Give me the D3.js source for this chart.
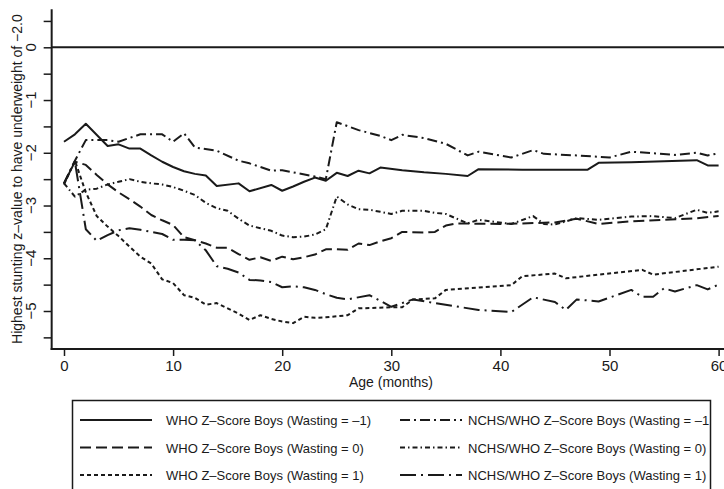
<!DOCTYPE html>
<html>
<head>
<meta charset="utf-8">
<script src="https://cdn.jsdelivr.net/npm/d3@7"></script>
<style>
  body { margin: 0; background: #fff; }
  svg text { font-family: "Liberation Sans", Arial, sans-serif; fill: #1a1a1a; }
</style>
</head>
<body>
<div id="chart"></div>
<script>
// Data (age in months, z-value)
const whoM1Age = [0, 1, 2, 4, 5, 6, 7, 8, 9, 10, 11, 12, 13, 14, 16, 17, 19, 20, 21, 22, 23, 24, 25, 26, 27, 28, 29, 31, 33, 35, 37, 38, 42, 48, 49, 52, 55, 58, 59, 60];
const whoM1Val = [-1.79, -1.65, -1.45, -1.87, -1.84, -1.92, -1.92, -2.05, -2.17, -2.27, -2.35, -2.40, -2.43, -2.63, -2.58, -2.73, -2.61, -2.72, -2.64, -2.55, -2.47, -2.53, -2.38, -2.44, -2.34, -2.39, -2.28, -2.33, -2.37, -2.40, -2.44, -2.31, -2.32, -2.32, -2.19, -2.18, -2.16, -2.14, -2.24, -2.24];

const who0Age = [0, 1, 2, 3, 4, 5, 6, 7, 8, 9, 10, 11, 12, 13, 14, 15, 16, 17, 18, 19, 20, 21, 22, 23, 24, 25, 26, 27, 28, 29, 30, 31, 33, 34, 35, 36, 40, 42, 45, 47, 49, 52, 55, 58, 60];
const who0Val = [-2.58, -2.17, -2.23, -2.42, -2.60, -2.75, -2.88, -3.02, -3.18, -3.28, -3.37, -3.60, -3.66, -3.72, -3.80, -3.80, -3.92, -4.03, -3.98, -4.05, -3.97, -4.02, -3.98, -3.93, -3.83, -3.83, -3.84, -3.72, -3.75, -3.68, -3.62, -3.50, -3.51, -3.50, -3.38, -3.34, -3.35, -3.34, -3.32, -3.25, -3.35, -3.30, -3.27, -3.24, -3.20];

const who1Age = [0, 1, 2, 3, 4, 5, 6, 7, 8, 9, 10, 11, 12, 13, 14, 15, 16, 17, 18, 19, 20, 21, 22, 23, 24, 26, 27, 30, 31, 32, 34, 35, 41, 42, 45, 46, 53, 54, 60];
const who1Val = [-2.60, -2.15, -2.75, -3.20, -3.40, -3.58, -3.78, -3.97, -4.10, -4.40, -4.47, -4.70, -4.75, -4.88, -4.85, -4.95, -5.05, -5.17, -5.08, -5.15, -5.20, -5.23, -5.11, -5.13, -5.12, -5.08, -4.95, -4.93, -4.93, -4.78, -4.76, -4.60, -4.51, -4.34, -4.29, -4.38, -4.22, -4.31, -4.16];

const nchsM1Age = [0, 1, 2, 4, 5, 7, 9, 10, 11, 12, 14, 16, 17, 19, 20, 23, 24, 25, 27, 29, 30, 31, 33, 35, 37, 38, 41, 43, 44, 47, 50, 52, 54, 56, 58, 59, 60];
const nchsM1Val = [-2.58, -2.15, -1.76, -1.76, -1.79, -1.65, -1.65, -1.79, -1.63, -1.90, -1.96, -2.15, -2.20, -2.34, -2.33, -2.45, -2.50, -1.42, -1.57, -1.68, -1.76, -1.66, -1.72, -1.83, -2.05, -1.98, -2.09, -1.95, -2.02, -2.05, -2.09, -1.98, -2.01, -2.04, -2.00, -2.05, -2.01];

const nchs0Age = [0, 1, 2, 3, 4, 5, 6, 7, 8, 9, 10, 11, 12, 13, 14, 15, 16, 17, 18, 19, 20, 21, 22, 23, 24, 25, 26, 27, 28, 29, 30, 31, 33, 34, 35, 36, 37, 38, 41, 43, 44, 45, 47, 49, 52, 54, 56, 58, 59, 60];
const nchs0Val = [-2.58, -2.83, -2.70, -2.68, -2.60, -2.55, -2.50, -2.55, -2.58, -2.60, -2.65, -2.72, -2.80, -2.95, -3.05, -3.10, -3.25, -3.38, -3.43, -3.48, -3.57, -3.60, -3.59, -3.55, -3.45, -2.83, -2.98, -3.07, -3.08, -3.12, -3.16, -3.10, -3.10, -3.14, -3.16, -3.25, -3.34, -3.27, -3.35, -3.20, -3.35, -3.36, -3.24, -3.27, -3.21, -3.20, -3.24, -3.08, -3.14, -3.11];

const nchs1Age = [0, 1, 2, 3, 4, 5, 6, 7, 8, 9, 10, 11, 12, 13, 14, 15, 16, 17, 18, 19, 20, 21, 22, 23, 24, 25, 26, 28, 30, 32, 34, 38, 41, 43, 45, 46, 47, 49, 52, 53, 54, 55, 56, 58, 59, 60];
const nchs1Val = [-2.58, -2.17, -3.45, -3.67, -3.56, -3.47, -3.43, -3.46, -3.50, -3.54, -3.65, -3.65, -3.66, -3.85, -4.15, -4.20, -4.27, -4.41, -4.42, -4.45, -4.55, -4.53, -4.55, -4.60, -4.68, -4.75, -4.78, -4.70, -4.92, -4.78, -4.85, -4.98, -5.02, -4.74, -4.83, -4.98, -4.78, -4.82, -4.60, -4.73, -4.73, -4.57, -4.63, -4.51, -4.59, -4.50];

const seriesNames = [
  "WHO Z\u2013Score Boys (Wasting = \u20131)",
  "WHO Z\u2013Score Boys (Wasting = 0)",
  "WHO Z\u2013Score Boys (Wasting = 1)",
  "NCHS/WHO Z\u2013Score Boys (Wasting = \u20131",
  "NCHS/WHO Z\u2013Score Boys (Wasting = 0)",
  "NCHS/WHO Z\u2013Score Boys (Wasting = 1)"
];
const yTickValues = [0, -1, -2, -3, -4, -5];
const xTickValues = [0, 10, 20, 30, 40, 50, 60];

const series = [
  { ages: whoM1Age, vals: whoM1Val, dash: null },
  { ages: who0Age, vals: who0Val, dash: "11,5" },
  { ages: who1Age, vals: who1Val, dash: "4,3" },
  { ages: nchsM1Age, vals: nchsM1Val, dash: "10,4,2,4" },
  { ages: nchs0Age, vals: nchs0Val, dash: "5,3,1.5,3" },
  { ages: nchs1Age, vals: nchs1Val, dash: "16,5,2,5" }
];

const width = 724, height = 489;
const ink = "#1a1a1a";

const svg = d3.select("#chart").append("svg")
  .attr("width", width)
  .attr("height", height);

// scales: 0 months at x=64, 60 at x=718.6; z=0 at y=47.3, -5 at y=311
const x = d3.scaleLinear().domain([0, 60]).range([64, 718.6]);
const y = d3.scaleLinear().domain([0, -5]).range([47.3, 311]);
const axisX = x(-1.13);
const axisY = y(-5.72);

// y axis (labels rotated, minor ticks every 0.5)
const yAxis = svg.append("g")
  .attr("transform", `translate(${axisX},0)`)
  .call(d3.axisLeft(y).tickValues(d3.range(-5.5, 0.51, 0.5)).tickSize(8).tickFormat(""));
yAxis.select(".domain").remove();
yAxis.selectAll("line").attr("stroke", ink).attr("stroke-width", 1.5);
svg.append("line")
  .attr("x1", axisX).attr("x2", axisX)
  .attr("y1", y(0.72)).attr("y2", axisY + 1)
  .attr("stroke", ink).attr("stroke-width", 2);

svg.append("g").selectAll("text")
  .data(yTickValues)
  .join("text")
  .attr("transform", d => `translate(36,${y(d)}) rotate(-90)`)
  .attr("text-anchor", "middle")
  .attr("font-size", 15)
  .text(d => d === 0 ? "0" : "\u2212" + Math.abs(d));

svg.append("text")
  .attr("transform", `translate(22,${(y(0.72) + axisY) / 2}) rotate(-90)`)
  .attr("text-anchor", "middle")
  .attr("font-size", 14)
  .text("Highest stunting z\u2013value to have underweight of \u22122.0");

// x axis
const xAxis = svg.append("g")
  .attr("transform", `translate(0,${axisY})`)
  .call(d3.axisBottom(x).tickValues(xTickValues).tickSize(7).tickPadding(4));
xAxis.select(".domain").remove();
xAxis.selectAll("line").attr("stroke", ink).attr("stroke-width", 1.5);
xAxis.selectAll("text")
  .attr("font-size", 15)
  .attr("font-family", "'Liberation Sans Narrow', 'Liberation Sans', Arial, sans-serif")
  .attr("fill", ink);
svg.append("line")
  .attr("x1", axisX - 1).attr("x2", width)
  .attr("y1", axisY).attr("y2", axisY)
  .attr("stroke", ink).attr("stroke-width", 2);

svg.append("text")
  .attr("x", 391).attr("y", 387)
  .attr("text-anchor", "middle")
  .attr("font-size", 14)
  .text("Age (months)");

// reference line at z = 0
svg.append("line")
  .attr("x1", axisX).attr("x2", width)
  .attr("y1", y(0)).attr("y2", y(0))
  .attr("stroke", ink).attr("stroke-width", 2);

// series lines
const line = d3.line()
  .x(d => x(d[0]))
  .y(d => y(d[1]));

svg.append("g").selectAll("path")
  .data(series)
  .join("path")
  .attr("d", s => line(s.ages.map((a, i) => [a, s.vals[i]])))
  .attr("fill", "none")
  .attr("stroke", ink)
  .attr("stroke-width", 2)
  .attr("stroke-linejoin", "round")
  .attr("stroke-dasharray", s => s.dash);

// legend box (bottom edge cut off by the image)
svg.append("path")
  .attr("d", "M72.5,489 V400.5 H710.5 V489")
  .attr("fill", "none")
  .attr("stroke", ink)
  .attr("stroke-width", 1.5);

const rowY = [420, 447.5, 475];
const legend = svg.append("g").selectAll("g")
  .data(series)
  .join("g")
  .attr("transform", (d, i) => i < 3
    ? `translate(80,${rowY[i]})`
    : `translate(400,${rowY[i - 3]})`);

legend.append("line")
  .attr("x1", 0).attr("x2", (d, i) => i < 3 ? 72 : 62)
  .attr("stroke", ink)
  .attr("stroke-width", 2)
  .attr("stroke-dasharray", d => d.dash);

legend.append("text")
  .attr("x", (d, i) => i < 3 ? 86 : 68)
  .attr("y", 5)
  .attr("font-size", 13)
  .text((d, i) => seriesNames[i]);
</script>
</body>
</html>
